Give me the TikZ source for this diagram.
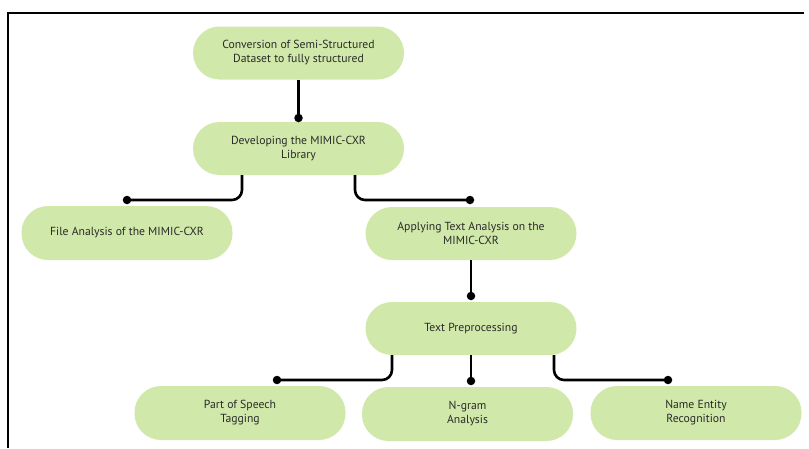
\documentclass[tikz,border=0pt]{standalone}
\usepackage{fontspec}
\setmainfont{PT Sans}
\definecolor{boxgreen}{HTML}{D0E9AA}
\definecolor{txtgray}{HTML}{2A2A2A}
\begin{document}
\begin{tikzpicture}[x=1pt,y=-1pt,
  box/.style={fill=boxgreen, draw=none, rounded corners=26.5pt, minimum width=211pt, minimum height=53pt,
    inner sep=0pt, align=center, text=txtgray, font=\fontsize{11.7}{14}\selectfont},
  conn/.style={draw=black, line width=2.6pt, rounded corners=10pt},
  dotmark/.style={circle, fill=black, inner sep=0pt, minimum size=8.5pt}]
\useasboundingbox (0,0) rectangle (809,448);
\draw[line width=1.4pt] (8,448) -- (8,13) -- (804,13);

\node[box] (n1) at (298.5,53) {Conversion of Semi-Structured\\Dataset to fully structured};
\node[box] (n2) at (298.5,148.5) {Developing the MIMIC-CXR\\Library};
\node[box, minimum height=54pt] (n3) at (127,233) {File Analysis of the MIMIC-CXR};
\node[box] (n4) at (471,233.5) {Applying Text Analysis on the\\MIMIC-CXR};
\node[box] (n5) at (471,328.5) {Text Preprocessing};
\node[box, minimum height=54pt] (n6) at (240,413) {Part of Speech\\Tagging};
\node[box, minimum height=54pt] (n7) at (467.5,414) {N-gram\\Analysis};
\node[box, minimum height=54pt] (n8) at (696,413) {Name Entity\\Recognition};

\node[dotmark] (d2) at (298.5,118) {};
\node[dotmark] (d3) at (127,200) {};
\node[dotmark] (d4) at (470,200) {};
\node[dotmark] (d5) at (471,296) {};
\node[dotmark] (d6) at (277,380) {};
\node[dotmark] (d7) at (471,381) {};
\node[dotmark] (d8) at (668,380) {};

\draw[conn] (n1.south) -- (d2.center);
\draw[conn] ([xshift=-56.5pt]n2.south) |- (d3.center);
\draw[conn] ([xshift=56.5pt]n2.south) |- (d4.center);
\draw[conn] (n4.south) -- (d5.center);
\draw[conn] ([xshift=-79pt]n5.south) |- (d6.center);
\draw[conn] (n5.south) -- (d7.center);
\draw[conn] ([xshift=83pt]n5.south) |- (d8.center);
\end{tikzpicture}
\end{document}
